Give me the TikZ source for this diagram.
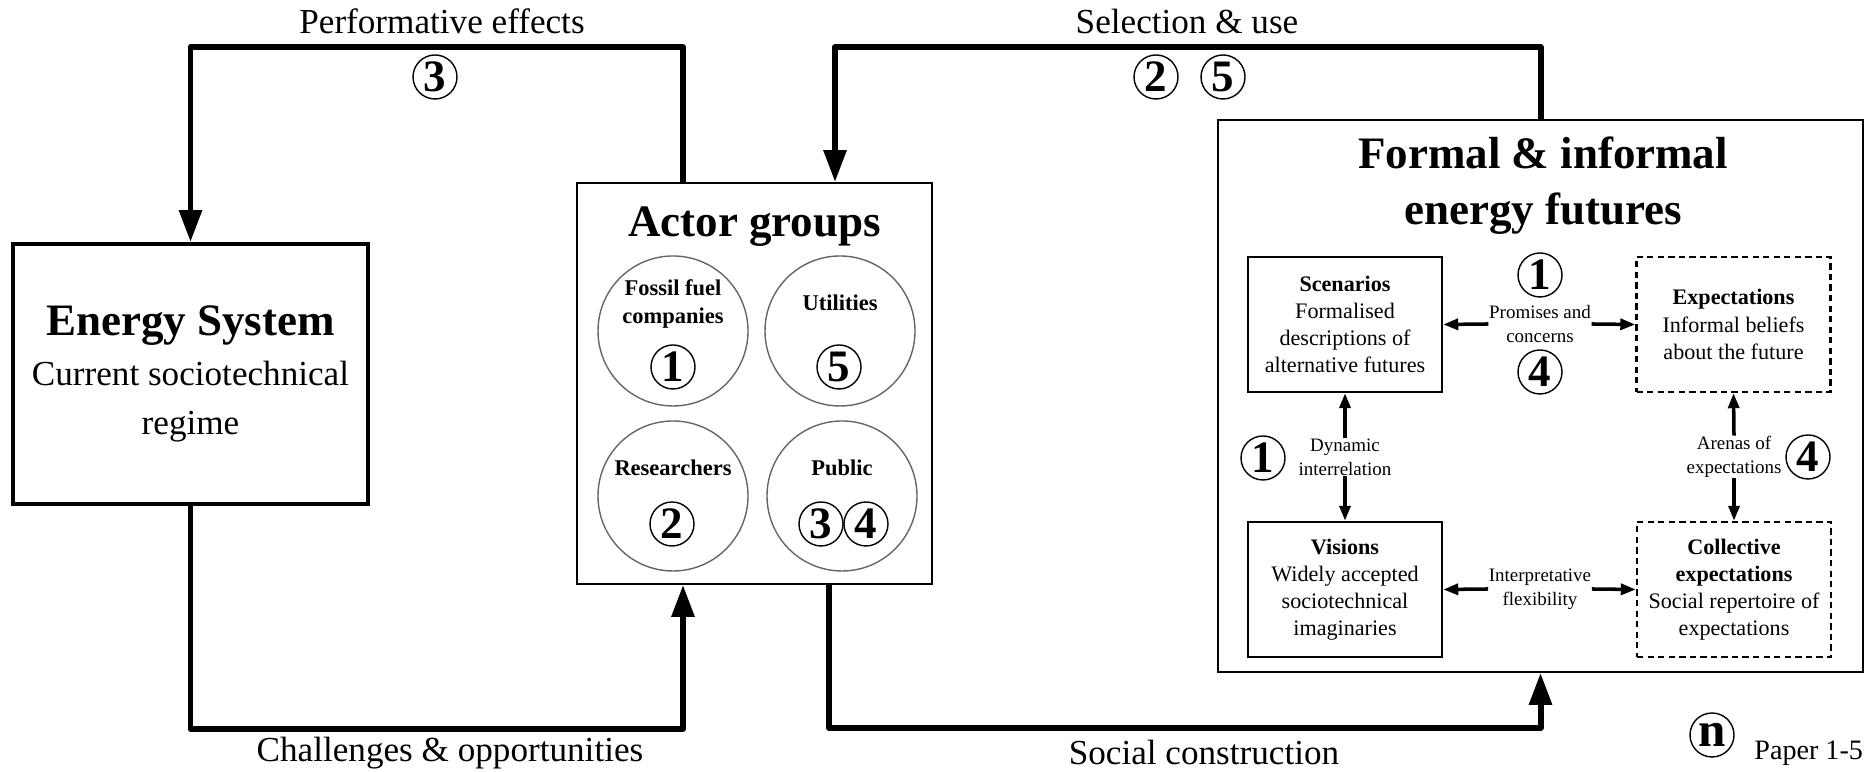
\documentclass[tikz,border=0pt]{standalone}
\usepackage{fontspec}
\setmainfont{Liberation Serif}
\usetikzlibrary{arrows.meta,positioning}

\newcommand{\titlefont}{\fontsize{12.8pt}{16pt}\selectfont\bfseries}
\newcommand{\labelfont}{\fontsize{10pt}{12pt}\selectfont}

\begin{document}
\begin{tikzpicture}[
  x=1cm,
  y=1cm,
  every node/.style={font=\labelfont},
  flow/.style={line width=1.7pt, line join=round, -{Triangle[length=0.32cm, width=0.22cm]}},
  link/.style={line width=1pt, -{Triangle[length=0.15cm, width=0.11cm]}},
  frame/.style={draw, rectangle, inner sep=0pt},
  group/.style={draw=black!60, line width=0.4pt, circle, minimum size=1.5cm, inner sep=0pt},
  grouplabel/.style={align=center, inner sep=0pt, font=\fontsize{6.4pt}{7.7pt}\selectfont\bfseries},
  num/.style={draw, circle, line width=0.4pt, minimum size=0.44cm, inner sep=0pt,
    font=\fontsize{12.8pt}{12.8pt}\selectfont\bfseries},
  card/.style={draw, line width=0.7pt, minimum width=1.94cm, minimum height=1.35cm,
    align=center, inner sep=0pt, font=\fontsize{6.3pt}{7.7pt}\selectfont},
  dashcard/.style={card, dash pattern=on 1.8pt off 1.2pt},
  small/.style={align=center, inner sep=0pt, font=\fontsize{5.4pt}{6.8pt}\selectfont}
]
  \useasboundingbox (0,0) rectangle (18.65,7.72);

  % energy system
  \node[frame, line width=1.1pt, minimum width=3.55cm, minimum height=2.6cm, align=center,
    font=\fontsize{10pt}{14pt}\selectfont] (energy) at (1.905,3.98)
    {{\titlefont Energy System}\\Current sociotechnical\\regime};

  % actor groups
  \node[frame, line width=0.5pt, minimum width=3.55cm, minimum height=4.01cm] (actors) at (7.545,3.885) {};
  \node[anchor=base, font=\titlefont] (actortitle) at ([yshift=-0.54cm]actors.north) {Actor groups};

  \node[group] (fossil) at (6.73,4.41) {};
  \node[group] (utilities) at (8.40,4.41) {};
  \node[group] (researchers) at (6.73,2.76) {};
  \node[group] (public) at (8.42,2.76) {};

  \node[grouplabel] (fossiltxt) at (6.73,4.68) {Fossil fuel\\companies};
  \node[grouplabel] (utiltxt) at (8.40,4.69) {Utilities};
  \node[grouplabel] (restxt) at (6.73,3.04) {Researchers};
  \node[grouplabel] (pubtxt) at (8.42,3.04) {Public};

  \node[num] (fossilnum) at (6.73,4.05) {1};
  \node[num] (utilnum) at (8.39,4.05) {5};
  \node[num] (resnum) at (6.72,2.48) {2};
  \node[num] (pubnuma) at (8.21,2.48) {3};
  \node[num] (pubnumb) at (8.66,2.48) {4};

  % energy futures
  \node[frame, line width=0.5pt, minimum width=6.45cm, minimum height=5.52cm] (futures) at (15.405,3.76) {};
  \node[align=center, font=\titlefont] (futurestitle) at (15.43,5.865) {Formal \& informal\\energy futures};

  \node[card] (scen) at (13.45,4.475) {\textbf{Scenarios}\\Formalised\\descriptions of\\alternative futures};
  \node[dashcard] (expect) at (17.335,4.475) {\textbf{Expectations}\\Informal beliefs\\about the future};
  \node[card] (vision) at (13.45,1.825) {\textbf{Visions}\\Widely accepted\\sociotechnical\\imaginaries};
  \node[dashcard] (collect) at (17.34,1.825) {\textbf{Collective}\\\textbf{expectations}\\Social repertoire of\\expectations};

  \node[small] (promise) at (15.40,4.48) {Promises and\\concerns};
  \node[small] (dynamic) at (13.45,3.15) {Dynamic\\interrelation};
  \node[small] (arena) at (17.34,3.15) {Arenas of\\expectations};
  \node[small] (interp) at (15.40,1.83) {Interpretative\\flexibility};

  \node[num] (promisenuma) at (15.40,4.97) {1};
  \node[num] (promisenumb) at (15.40,4.00) {4};
  \node[num] (dynamicnum) at (12.63,3.14) {1};
  \node[num] (arenanum) at (18.08,3.15) {4};

  \draw[link] (promise.west) -- (scen.east);
  \draw[link] (promise.east) -- (expect.west);
  \draw[link] (dynamic.north) -- (scen.south);
  \draw[link] (dynamic.south) -- (vision.north);
  \draw[link] (arena.north) -- (expect.south);
  \draw[link] (arena.south) -- (collect.north);
  \draw[link] (interp.west) -- (vision.east);
  \draw[link] (interp.east) -- (collect.west);

  % feedback loops
  \draw[flow] ([xshift=-0.715cm]actors.north) -- ++(0,1.35) -| (energy.north);
  \draw[flow] (futures.north) -- ++(0,0.72) -| ([xshift=0.805cm]actors.north);
  \draw[flow] (energy.south) -- ++(0,-2.23) -| ([xshift=-0.715cm]actors.south);
  \draw[flow] ([xshift=0.745cm]actors.south) -- ++(0,-1.43) -| (futures.south);

  \node[anchor=base] (perf) at (4.42,7.38) {Performative effects};
  \node[anchor=base] (select) at (11.87,7.38) {Selection \& use};
  \node[anchor=base] (chall) at (4.50,0.10) {Challenges \& opportunities};
  \node[anchor=base] (social) at (12.04,0.07) {Social construction};

  \node[num] (perfnum) at (4.35,6.95) {3};
  \node[num] (selectnuma) at (11.56,6.95) {2};
  \node[num] (selectnumb) at (12.23,6.95) {5};

  % legend
  \node[num, font=\fontsize{14pt}{14pt}\selectfont\bfseries] (legendnum) at (17.12,0.37) {n};
  \node[anchor=base west, font=\fontsize{8pt}{8pt}\selectfont] (legend) at (17.42,0.12) {Paper 1-5};
\end{tikzpicture}
\end{document}
